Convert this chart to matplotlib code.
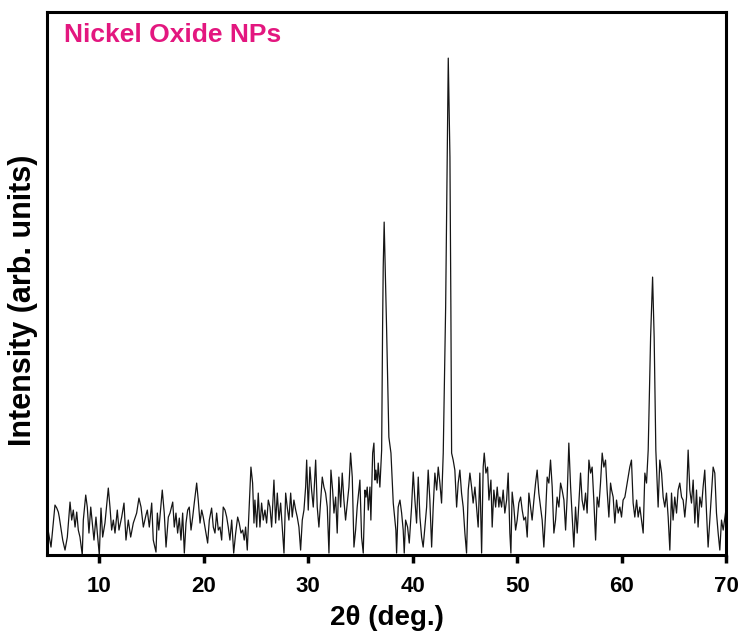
#!/usr/bin/env python3
"""XRD pattern of nickel oxide nanoparticles, redrawn as a static PNG."""

import matplotlib
matplotlib.use("Agg")
import matplotlib.pyplot as plt

# ── Data (2θ in degrees, intensity in arb. units) ──
two_theta = [
    5.05, 5.41, 5.79, 5.96, 6.11, 6.20, 6.34, 6.53, 6.75, 6.97,
    7.23, 7.39, 7.54, 7.71, 7.87, 8.02, 8.18, 8.40, 8.50, 8.73,
    8.88, 9.04, 9.21, 9.36, 9.52, 9.71, 9.84, 10.03, 10.19, 10.35,
    10.57, 10.89, 11.05, 11.21, 11.37, 11.53, 11.75, 11.91, 12.17, 12.39,
    12.58, 12.80, 13.03, 13.28, 13.60, 13.82, 14.02, 14.24, 14.49, 14.62,
    14.81, 15.04, 15.19, 15.45, 15.58, 15.72, 16.05, 16.24, 16.41, 16.63,
    16.79, 17.05, 17.20, 17.36, 17.52, 17.68, 17.84, 18.00, 18.16, 18.32,
    18.48, 18.63, 18.80, 18.96, 19.11, 19.34, 19.49, 19.66, 19.82, 19.97,
    20.13, 20.39, 20.55, 20.77, 20.93, 21.09, 21.25, 21.41, 21.57, 21.73,
    21.88, 22.05, 22.21, 22.36, 22.52, 22.69, 22.88, 23.07, 23.26, 23.41,
    23.58, 23.74, 23.89, 24.02, 24.18, 24.34, 24.53, 24.69, 24.82, 24.91,
    25.08, 25.23, 25.39, 25.55, 25.71, 25.87, 26.03, 26.19, 26.35, 26.51,
    26.73, 26.89, 27.05, 27.21, 27.37, 27.52, 27.69, 27.85, 28.00, 28.16,
    28.33, 28.48, 28.64, 28.81, 28.96, 29.12, 29.28, 29.44, 29.60, 29.76,
    29.86, 30.01, 30.17, 30.33, 30.49, 30.72, 30.87, 31.03, 31.20, 31.35,
    31.51, 31.67, 31.83, 31.99, 32.18, 32.34, 32.47, 32.63, 32.78, 32.94,
    33.11, 33.26, 33.42, 33.58, 33.74, 33.90, 34.06, 34.22, 34.38, 34.54,
    34.69, 34.95, 35.11, 35.27, 35.43, 35.53, 35.65, 35.75, 35.91, 36.00,
    36.17, 36.29, 36.39, 36.48, 36.61, 36.70, 36.86, 37.03, 37.12, 37.18,
    37.27, 37.37, 37.50, 37.66, 37.72, 37.92, 38.14, 38.39, 38.46, 38.61,
    38.78, 38.94, 39.09, 39.19, 39.32, 39.51, 39.67, 39.89, 40.05, 40.21,
    40.37, 40.53, 40.69, 40.85, 41.00, 41.17, 41.33, 41.48, 41.64, 41.81,
    41.96, 42.12, 42.29, 42.44, 42.60, 42.76, 42.92, 43.15, 43.30, 43.40,
    43.56, 43.65, 43.72, 43.87, 44.03, 44.20, 44.35, 44.51, 44.67, 44.83,
    44.99, 45.15, 45.31, 45.47, 45.63, 45.78, 45.95, 46.11, 46.26, 46.42,
    46.59, 46.74, 46.84, 47.00, 47.16, 47.29, 47.48, 47.60, 47.76, 47.93,
    48.08, 48.24, 48.33, 48.50, 48.65, 48.81, 48.98, 49.13, 49.29, 49.39,
    49.51, 49.67, 49.84, 49.99, 50.15, 50.32, 50.47, 50.63, 50.79, 50.95,
    51.11, 51.27, 51.42, 51.59, 51.75, 51.90, 52.06, 52.23, 52.38, 52.54,
    52.71, 52.86, 53.02, 53.18, 53.34, 53.50, 53.66, 53.81, 53.98, 54.14,
    54.29, 54.46, 54.62, 54.77, 54.93, 55.10, 55.25, 55.41, 55.57, 55.73,
    55.89, 56.05, 56.20, 56.37, 56.53, 56.68, 56.85, 57.01, 57.16, 57.32,
    57.49, 57.64, 57.80, 57.96, 58.12, 58.28, 58.44, 58.59, 58.76, 58.92,
    59.02, 59.17, 59.33, 59.49, 59.65, 59.81, 59.97, 60.12, 60.29, 60.45,
    60.60, 60.76, 60.92, 61.08, 61.24, 61.41, 61.56, 61.72, 61.88, 62.04,
    62.20, 62.36, 62.52, 62.75, 62.94, 63.09, 63.25, 63.47, 63.63, 63.80,
    63.95, 64.11, 64.27, 64.43, 64.59, 64.75, 64.90, 65.06, 65.23, 65.38,
    65.54, 65.71, 65.86, 66.02, 66.19, 66.34, 66.50, 66.66, 66.82, 66.98,
    67.14, 67.29, 67.46, 67.62, 67.77, 67.93, 68.10, 68.25, 68.41, 68.58,
    68.73, 68.89, 69.05, 69.21, 69.37, 69.53, 69.69, 69.95,
]

intensity = [
    30, 8, 50, 47, 43, 38, 28, 15, 5, 18,
    53, 35, 45, 28, 43, 25, 18, 0, 35, 60,
    48, 22, 48, 32, 15, 38, 22, 0, 47, 18,
    32, 67, 48, 25, 35, 22, 45, 25, 38, 52,
    15, 35, 18, 32, 42, 57, 48, 28, 40, 45,
    28, 52, 15, 3, 42, 25, 65, 42, 8, 38,
    42, 53, 28, 42, 22, 37, 15, 42, 2, 32,
    45, 48, 25, 38, 52, 72, 55, 32, 45, 38,
    28, 12, 35, 47, 28, 22, 42, 25, 28, 15,
    48, 45, 38, 28, 15, 35, 2, 22, 38, 32,
    22, 25, 15, 28, 5, 42, 88, 72, 32, 55,
    28, 62, 28, 52, 35, 45, 32, 55, 48, 28,
    75, 32, 62, 35, 52, 28, 2, 62, 48, 35,
    62, 38, 55, 45, 38, 28, 5, 35, 45, 68,
    95, 45, 88, 65, 48, 95, 48, 28, 55, 78,
    68, 62, 48, 2, 85, 65, 42, 58, 22, 78,
    48, 82, 55, 35, 52, 68, 102, 78, 8, 25,
    48, 75, 18, 2, 65, 58, 68, 45, 68, 35,
    102, 112, 75, 85, 72, 92, 68, 105, 228, 288,
    333, 288, 228, 150, 118, 102, 52, 25, 2, 48,
    55, 42, 25, 2, 35, 28, 12, 48, 83, 55,
    32, 78, 38, 18, 8, 28, 48, 85, 55, 8,
    48, 82, 65, 88, 72, 52, 102, 248, 398, 497,
    398, 248, 102, 95, 85, 48, 72, 85, 62, 48,
    22, 2, 65, 82, 68, 52, 68, 48, 28, 82,
    2, 88, 102, 82, 88, 55, 75, 28, 65, 48,
    68, 48, 58, 48, 65, 42, 55, 82, 22, 2,
    63, 48, 25, 35, 52, 58, 45, 35, 38, 18,
    62, 48, 35, 55, 72, 85, 62, 48, 35, 8,
    42, 78, 72, 95, 68, 22, 35, 58, 48, 72,
    65, 55, 25, 58, 112, 68, 38, 8, 48, 22,
    52, 82, 55, 45, 62, 42, 95, 82, 88, 55,
    15, 58, 48, 72, 102, 88, 95, 65, 38, 72,
    65, 58, 32, 55, 42, 48, 38, 55, 58, 68,
    78, 88, 95, 52, 38, 55, 38, 48, 35, 22,
    82, 72, 105, 218, 278, 218, 105, 48, 95, 82,
    58, 48, 62, 38, 5, 62, 35, 58, 42, 65,
    72, 58, 55, 38, 58, 105, 65, 52, 75, 32,
    65, 28, 58, 48, 68, 85, 42, 8, 35, 65,
    88, 82, 42, 22, 5, 35, 25, 45,
]

x_ticks = [10, 20, 30, 40, 50, 60, 70]

TITLE_COLOR = "#e3177f"
BOLD_FONT = ["Liberation Sans Narrow", "Liberation Sans", "DejaVu Sans"]

fig = plt.figure(figsize=(7.38, 6.38), dpi=100)
ax = fig.add_axes([0.0633, 0.130, 0.921, 0.851])

ax.plot(two_theta, intensity, color="#151515", linewidth=0.9)

ax.set_xlim(5, 70)
ax.set_ylim(0, 543)
ax.set_xticks(x_ticks)
ax.set_yticks([])
ax.tick_params(axis="x", direction="out", length=6, width=2.5, pad=9)
for lab in ax.get_xticklabels():
    lab.set_fontfamily(BOLD_FONT)
    lab.set_fontweight("bold")
    lab.set_fontsize(16)

for spine in ax.spines.values():
    spine.set_linewidth(2.2)

ax.set_xlabel("2θ (deg.)", fontsize=20, fontweight="bold",
              family=BOLD_FONT, labelpad=6)
ax.set_ylabel("Intensity (arb. units)", fontsize=22, fontweight="bold",
              family=BOLD_FONT)
ax.yaxis.set_label_coords(-0.013, 0.47)

ax.text(0.025, 0.957, "Nickel Oxide NPs", transform=ax.transAxes,
        ha="left", va="center", fontsize=19, fontweight="bold",
        family=BOLD_FONT, color=TITLE_COLOR)

fig.savefig("out.png", dpi=100, facecolor="white")
